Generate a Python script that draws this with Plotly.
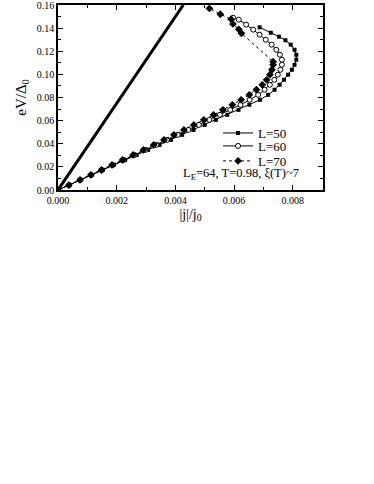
import plotly.graph_objects as go

# voltage eV/Delta0 and current |j|/j0 for each length
v_l50 = [0.0, 0.0043, 0.0087, 0.013, 0.0173, 0.0217, 0.026, 0.0303, 0.0347, 0.039,
         0.0433, 0.0477, 0.052, 0.0563, 0.0607, 0.065, 0.0693, 0.0737, 0.078, 0.0823,
         0.0867, 0.091, 0.0953, 0.0997, 0.104, 0.1083, 0.1127, 0.117, 0.1213, 0.1257,
         0.1295, 0.1326, 0.136, 0.1407]
j_l50 = [0.0, 0.00038, 0.00076, 0.00114, 0.00152, 0.0019, 0.00229, 0.00268, 0.00307, 0.00346,
         0.00385, 0.00423, 0.00462, 0.005, 0.00538, 0.00577, 0.00615, 0.00652, 0.00688, 0.00716,
         0.00738, 0.00755, 0.0077, 0.00784, 0.00797, 0.00806, 0.00812, 0.00812, 0.00806, 0.00793,
         0.00775, 0.00753, 0.00725, 0.00687]

v_l60 = [0.0, 0.0043, 0.0087, 0.013, 0.0173, 0.0217, 0.026, 0.0303, 0.0347, 0.039,
         0.0433, 0.0477, 0.052, 0.0563, 0.0607, 0.065, 0.0693, 0.0737, 0.078, 0.0823,
         0.0867, 0.091, 0.0953, 0.0997, 0.104, 0.1083, 0.1127, 0.117, 0.1213, 0.1257,
         0.13, 0.1343, 0.1387, 0.143, 0.1473, 0.149]
j_l60 = [0.0, 0.00038, 0.00076, 0.00113, 0.0015, 0.00187, 0.00224, 0.00261, 0.00298, 0.00335,
         0.00371, 0.00408, 0.00444, 0.0048, 0.00516, 0.00552, 0.00587, 0.00622, 0.00653, 0.00682,
         0.00704, 0.00722, 0.00737, 0.00749, 0.00758, 0.00763, 0.00763, 0.00756, 0.00744, 0.00728,
         0.00708, 0.00687, 0.00665, 0.00641, 0.00616, 0.00597]

v_l70 = [0.0, 0.0043, 0.0087, 0.013, 0.0173, 0.0217, 0.026, 0.0303, 0.0347, 0.039,
         0.0433, 0.0477, 0.052, 0.0563, 0.0607, 0.065, 0.0693, 0.0737, 0.078, 0.0823,
         0.0867, 0.091, 0.0953, 0.0997, 0.104, 0.1083, 0.111,
         0.1355, 0.139, 0.1436, 0.1477, 0.152, 0.157]
j_l70 = [0.0, 0.00037, 0.00075, 0.00112, 0.00148, 0.00184, 0.0022, 0.00256, 0.00291, 0.00326,
         0.00361, 0.00395, 0.00429, 0.00463, 0.00497, 0.0053, 0.00562, 0.00594, 0.00624, 0.00652,
         0.00676, 0.00696, 0.00711, 0.00722, 0.00729, 0.00733, 0.00733,
         0.00625, 0.00616, 0.00596, 0.0059, 0.00553, 0.00516]

# thick reference line
v_ref = [0.0, 0.16]
j_ref = [0.0, 0.00427]

SERIF = "Liberation Serif, Times New Roman, serif"

fig = go.Figure()

fig.add_trace(go.Scatter(
    x=j_ref, y=v_ref, mode='lines', showlegend=False,
    line=dict(color='black', width=3)
))

# one legend per series so the rows can sit as tightly as in the original
fig.add_trace(go.Scatter(
    x=j_l50, y=v_l50, mode='lines+markers', name='L=50', legend='legend',
    line=dict(color='black', width=1),
    marker=dict(symbol='square', size=4, color='black')
))

fig.add_trace(go.Scatter(
    x=j_l60, y=v_l60, mode='lines+markers', name='L=60', legend='legend2',
    line=dict(color='black', width=1),
    marker=dict(symbol='circle', size=5, color='white', line=dict(width=1, color='black'))
))

fig.add_trace(go.Scatter(
    x=j_l70, y=v_l70, mode='lines+markers', name='L=70', legend='legend3',
    line=dict(color='black', width=1, dash='dot'),
    marker=dict(symbol='diamond', size=6, color='black')
))

fig.add_annotation(
    text='L<sub>E</sub>=64, T=0.98, ξ(T)~7',
    xref='paper', yref='paper', x=0.917, y=0.086,
    xanchor='right', yanchor='middle', showarrow=False,
    font=dict(family=SERIF, size=12.5, color='black')
)

axis_common = dict(
    showline=True, linecolor='black', linewidth=1.5, mirror='allticks',
    ticks='inside', ticklen=5, tickwidth=1, tickcolor='black',
    showgrid=False, zeroline=False, automargin=False,
    ticklabeloverflow='allow',
    tickfont=dict(family=SERIF, size=10, color='black'),
)

fig.update_xaxes(
    **axis_common,
    range=[0, 0.00903], dtick=0.002, tick0=0, tickformat='.3f',
    minor=dict(ticks='inside', ticklen=3, tickcolor='black', dtick=0.001, tick0=0),
    title=dict(text='|j|/j<sub>0</sub>', font=dict(family=SERIF, size=14, color='black'), standoff=4),
)

fig.update_yaxes(
    **axis_common,
    range=[0, 0.16], dtick=0.02, tick0=0, tickformat='.2f',
    minor=dict(ticks='inside', ticklen=3, tickcolor='black', dtick=0.01, tick0=0),
    title=dict(text='eV/Δ<sub>0</sub>', font=dict(family=SERIF, size=15, color='black'), standoff=7),
)

legend_style = dict(
    xanchor='left', yanchor='middle', bgcolor='rgba(0,0,0,0)',
    font=dict(family=SERIF, size=13, color='black'),
)

fig.update_layout(
    width=374, height=484,
    margin=dict(l=58, r=51, t=5, b=294),
    plot_bgcolor='white', paper_bgcolor='white',
    font=dict(family=SERIF, color='black'),
    legend=dict(x=0.604, y=0.308, **legend_style),
    legend2=dict(x=0.604, y=0.238, **legend_style),
    legend3=dict(x=0.604, y=0.157, **legend_style),
)

# drop the default page margin so the figure sits at the window corner
fig.write_html("out.html", config={'displayModeBar': False},
               post_script="document.body.style.margin='0';")
